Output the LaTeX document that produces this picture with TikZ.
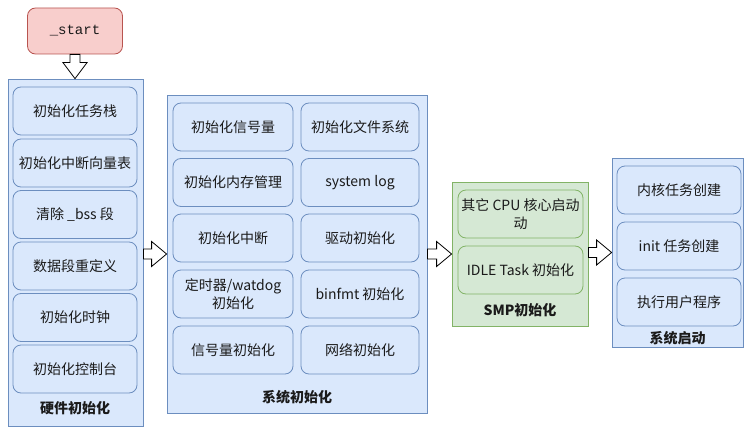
\documentclass[tikz,border=0pt]{standalone}
\usepackage{fontspec}
\setmainfont{Noto Sans CJK SC}
\newfontfamily\startmono{Liberation Mono}
\usetikzlibrary{calc}
\definecolor{bfill}{HTML}{DAE8FC}
\definecolor{bline}{HTML}{6C8EBF}
\definecolor{gfill}{HTML}{D5E8D4}
\definecolor{gline}{HTML}{82B366}
\definecolor{rfill}{HTML}{F8CECC}
\definecolor{rline}{HTML}{B85450}
\definecolor{txt}{HTML}{1A1A1A}
\tikzset{
  cont/.style={draw=bline, fill=bfill, line width=0.8pt, inner sep=0pt},
  gcont/.style={draw=gline, fill=gfill, line width=0.8pt, inner sep=0pt},
  item/.style={draw=bline, fill=bfill, line width=0.8pt, rounded corners=8pt, inner sep=2pt,
    minimum height=48pt, align=center, text=txt, font=\fontsize{14}{18}\selectfont},
  gitem/.style={item, draw=gline, fill=gfill},
  ttl/.style={font=\fontsize{14}{17}\selectfont\bfseries, text=txt, inner sep=1pt},
  barrow/.style={draw=black, fill=white, line width=0.8pt, line join=miter},
}
\newcommand\harrow[2]{\draw[barrow] let \p1=(#1.east), \p2=(#2.west) in
  ({\x1},{\y2+5pt}) -- ({\x2-15pt},{\y2+5pt}) -- ({\x2-15pt},{\y2+12.5pt}) -- ({\x2},{\y2})
  -- ({\x2-15pt},{\y2-12.5pt}) -- ({\x2-15pt},{\y2-5pt}) -- ({\x1},{\y2-5pt}) -- cycle;}
\begin{document}
\begin{tikzpicture}[x=1pt,y=-1pt]
\useasboundingbox (0,0) rectangle (744,428);
% start
\node[draw=rline, fill=rfill, line width=0.8pt, rounded corners=8pt, minimum width=95pt, minimum height=46pt,
  font=\startmono\fontsize{14}{17}\selectfont, text=txt] (start) at (75,31) {\_start};
% hardware
\node[cont, minimum width=135pt, minimum height=347pt] (hw) at (75.5,252.5) {};
\node[item, minimum width=124pt] (h1) at (75,111) {初始化任务栈};
\node[item, minimum width=124pt] (h2) at (75,163) {初始化中断向量表};
\node[item, minimum width=124pt] (h3) at (75,214.5) {清除 \_bss 段};
\node[item, minimum width=124pt] (h4) at (75,266) {数据段重定义};
\node[item, minimum width=124pt] (h5) at (75,317.5) {初始化时钟};
\node[item, minimum width=124pt] (h6) at (75,369) {初始化控制台};
\node[ttl] (hwt) at (75,408) {硬件初始化};
% system init
\node[cont, minimum width=260pt, minimum height=318pt] (sys) at (297,254) {};
\node[item, minimum width=120pt] (s1) at (233,127) {初始化信号量};
\node[item, minimum width=120pt] (s2) at (233,182.5) {初始化内存管理};
\node[item, minimum width=120pt] (s3) at (233,238) {初始化中断};
\node[item, minimum width=120pt] (s4) at (233,294) {定时器/watdog\\初始化};
\node[item, minimum width=120pt] (s5) at (233,350) {信号量初始化};
\node[item, minimum width=118pt] (s6) at (360,127) {初始化文件系统};
\node[item, minimum width=118pt] (s7) at (360,182.5) {system log};
\node[item, minimum width=118pt] (s8) at (360,238) {驱动初始化};
\node[item, minimum width=118pt] (s9) at (360,294) {binfmt 初始化};
\node[item, minimum width=118pt] (s10) at (360,350) {网络初始化};
\node[ttl] (syst) at (297,397) {系统初始化};
% SMP
\node[gcont, minimum width=136pt, minimum height=144pt] (smp) at (520,254) {};
\node[gitem, minimum width=125pt] (m1) at (520.5,214) {其它 CPU 核心启动\\动};
\node[gitem, minimum width=125pt] (m2) at (520.5,270) {IDLE Task 初始化};
\node[ttl] (smpt) at (520,310) {SMP初始化};
% system start
\node[cont, minimum width=131pt, minimum height=189pt] (boot) at (677.5,252.5) {};
\node[item, minimum width=124pt] (b1) at (679,190) {内核任务创建};
\node[item, minimum width=124pt] (b2) at (679,246) {init 任务创建};
\node[item, minimum width=124pt] (b3) at (679,302) {执行用户程序};
\node[ttl, fill=bfill] (boott) at (677.5,338) {系统启动};
% arrows
\draw[barrow] let \p1=(start.south), \p2=(hw.north) in
  ({\x1-5pt},{\y1}) -- ({\x1-5pt},{\y2+16pt}) -- ({\x1-12pt},{\y2+16pt}) -- ({\x1},{\y2})
  -- ({\x1+12pt},{\y2+16pt}) -- ({\x1+5pt},{\y2+16pt}) -- ({\x1+5pt},{\y1}) -- cycle;
\harrow{hw}{sys}
\harrow{sys}{smp}
\harrow{smp}{boot}
\end{tikzpicture}
\end{document}
